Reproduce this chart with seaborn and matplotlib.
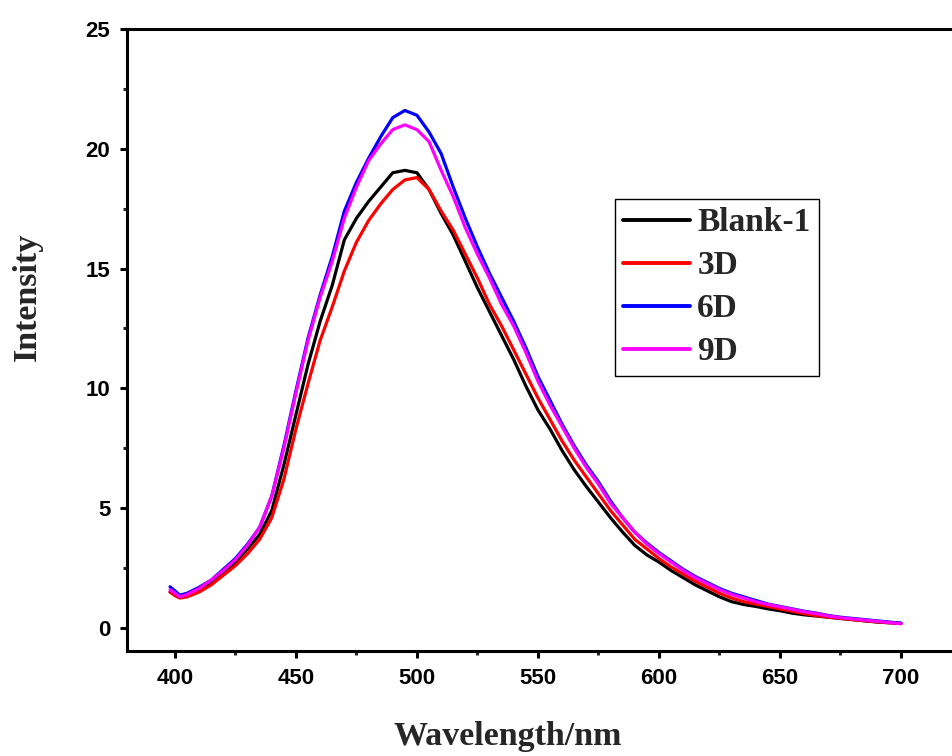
import matplotlib
matplotlib.use("Agg")
import matplotlib.pyplot as plt
import seaborn as sns
import pandas as pd
from matplotlib.ticker import MultipleLocator

wavelength = [398, 400, 402, 405, 410, 415, 420, 425, 430, 435, 440, 445, 450, 455, 460,
              465, 470, 475, 480, 485, 490, 495, 500, 505, 510, 515, 520, 525, 530, 535,
              540, 545, 550, 555, 560, 565, 570, 575, 580, 585, 590, 595, 600, 605, 610,
              615, 620, 625, 630, 635, 640, 645, 650, 655, 660, 665, 670, 675, 680, 685,
              690, 695, 700]

blank1 = [1.5, 1.4, 1.3, 1.35, 1.55, 1.9, 2.3, 2.75, 3.3, 3.9, 4.9, 6.8, 8.9, 11.0, 12.8,
          14.3, 16.2, 17.1, 17.8, 18.4, 19.0, 19.1, 19.0, 18.3, 17.3, 16.4, 15.3, 14.2, 13.2, 12.2,
          11.2, 10.1, 9.1, 8.3, 7.4, 6.6, 5.9, 5.25, 4.6, 4.0, 3.45, 3.05, 2.75, 2.4, 2.1,
          1.8, 1.55, 1.3, 1.1, 0.98, 0.9, 0.8, 0.72, 0.62, 0.55, 0.5, 0.45, 0.4, 0.35, 0.3,
          0.25, 0.22, 0.2]

d3 = [1.5, 1.35, 1.25, 1.3, 1.5, 1.8, 2.2, 2.6, 3.1, 3.7, 4.6, 6.2, 8.3, 10.2, 12.0,
      13.4, 14.9, 16.1, 17.0, 17.7, 18.3, 18.7, 18.8, 18.3, 17.4, 16.6, 15.6, 14.6, 13.5, 12.6,
      11.6, 10.6, 9.6, 8.7, 7.8, 7.0, 6.3, 5.6, 4.9, 4.3, 3.7, 3.3, 2.9, 2.55, 2.25,
      1.95, 1.7, 1.45, 1.25, 1.1, 1.0, 0.9, 0.8, 0.7, 0.6, 0.52, 0.45, 0.4, 0.35, 0.3,
      0.26, 0.22, 0.18]

d6 = [1.72, 1.55, 1.37, 1.45, 1.7, 2.0, 2.45, 2.9, 3.5, 4.2, 5.5, 7.6, 9.9, 12.1, 13.9,
      15.5, 17.4, 18.6, 19.6, 20.5, 21.3, 21.6, 21.4, 20.7, 19.8, 18.4, 17.1, 15.9, 14.8, 13.8,
      12.8, 11.7, 10.5, 9.5, 8.5, 7.6, 6.8, 6.1, 5.3, 4.6, 4.0, 3.55, 3.15, 2.8, 2.45,
      2.15, 1.9, 1.65, 1.45, 1.3, 1.15, 1.0, 0.9, 0.8, 0.7, 0.62, 0.52, 0.45, 0.4, 0.35,
      0.3, 0.25, 0.2]

d9 = [1.6, 1.45, 1.3, 1.4, 1.65, 2.0, 2.4, 2.85, 3.45, 4.2, 5.5, 7.5, 9.8, 12.0, 13.8,
      15.3, 17.1, 18.4, 19.5, 20.2, 20.8, 21.0, 20.8, 20.3, 19.1, 18.0, 16.7, 15.6, 14.6, 13.5,
      12.6, 11.5, 10.3, 9.3, 8.4, 7.5, 6.7, 6.0, 5.2, 4.6, 4.0, 3.5, 3.1, 2.75, 2.4,
      2.1, 1.85, 1.6, 1.4, 1.25, 1.1, 0.98, 0.88, 0.78, 0.68, 0.6, 0.5, 0.43, 0.38, 0.33,
      0.28, 0.23, 0.18]

series_names = ["Blank-1", "3D", "6D", "9D"]
series_colors = ["#000000", "#FF0000", "#0000FF", "#FF00FF"]

frames = []
for name, vals in zip(series_names, [blank1, d3, d6, d9]):
    frames.append(pd.DataFrame({"Wavelength": wavelength, "Intensity": vals, "Sample": name}))
df = pd.concat(frames, ignore_index=True)

sns.set_theme(style="ticks")
plt.rcParams["font.family"] = ["Liberation Sans", "DejaVu Sans"]
serif = ["Liberation Serif", "DejaVu Serif"]

fig = plt.figure(figsize=(9.52, 7.56), dpi=100)
ax = fig.add_axes([127 / 952, 1 - 651 / 756, (961.5 - 127) / 952, 622 / 756])

sns.lineplot(data=df, x="Wavelength", y="Intensity", hue="Sample",
             hue_order=series_names, palette=series_colors, linewidth=2.3,
             ax=ax, sort=False, estimator=None)

ax.set_xlim(380.2, 725)
ax.set_ylim(-0.96, 25)
ax.xaxis.set_major_locator(MultipleLocator(50))
ax.xaxis.set_minor_locator(MultipleLocator(25))
ax.yaxis.set_major_locator(MultipleLocator(5))
ax.yaxis.set_minor_locator(MultipleLocator(2.5))

for sp in ax.spines.values():
    sp.set_linewidth(2.2)
    sp.set_color("black")

ax.tick_params(which="major", direction="out", length=5, width=2.2, pad=7,
               labelsize=16, colors="black")
ax.tick_params(which="minor", direction="out", length=3, width=2.2)
for lab in ax.get_xticklabels() + ax.get_yticklabels():
    lab.set_fontweight("bold")

ax.set_xlabel("Wavelength/nm", fontsize=24.5, fontweight="bold", family=serif)
ax.set_ylabel("Intensity", fontsize=24.5, fontweight="bold", family=serif)
ax.xaxis.set_label_coords((508 - 127) / 834.5, (651 - 721) / 622)
ax.yaxis.set_label_coords((43 - 127) / 834.5, (651 - 297) / 622)

handles, labels = ax.get_legend_handles_labels()
for h in handles:
    h.set_linewidth(2.8)
leg = ax.legend(handles, labels, loc="upper left",
                bbox_to_anchor=(615 / 952, 1 - 199 / 756), bbox_transform=fig.transFigure,
                prop={"family": serif, "weight": "bold", "size": 24},
                frameon=True, fancybox=False, framealpha=1, edgecolor="black",
                handlelength=2.0, handletextpad=0.22, borderpad=0.25,
                labelspacing=0.36, borderaxespad=0)
leg.get_frame().set_linewidth(1.0)

fig.savefig("out.png", dpi=100)
